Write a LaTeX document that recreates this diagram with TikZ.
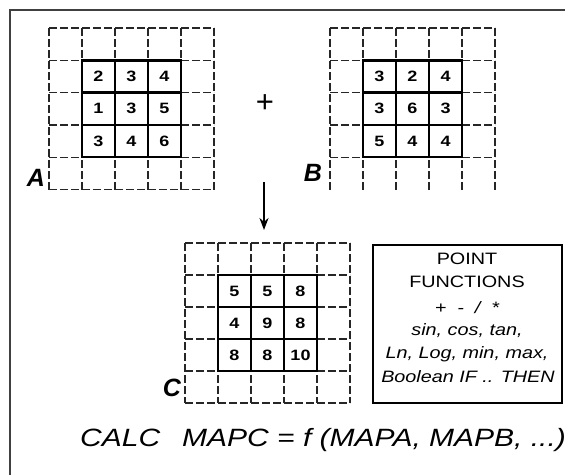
\documentclass[tikz,border=0pt]{standalone}
\usepackage{fontspec}
\setmainfont{Liberation Sans}
\newfontfamily\widesans[FakeStretch=1.2]{Liberation Sans}
\usetikzlibrary{arrows.meta}

\tikzset{
  frameline/.style={line width=2pt, draw=black!75},
  gridline/.style={line width=1.2pt, draw=black!85, dash pattern=on 8pt off 3pt},
  cellline/.style={line width=2.5pt, draw=black},
  cellnum/.style={font=\widesans\bfseries\fontsize{15}{15}\selectfont, inner sep=0pt},
  maplabel/.style={font=\bfseries\itshape\fontsize{25}{25}\selectfont, inner sep=0pt},
  flow/.style={line width=2.8pt, -{Stealth[length=12pt,width=9pt]}},
  fnbox/.style={draw, line width=2.6pt, inner sep=0pt, minimum width=189pt, minimum height=158pt},
  fnline/.style={font=\widesans\fontsize{16.5}{16.5}\selectfont, inner sep=0pt},
  fnitalic/.style={fnline, font=\widesans\itshape\fontsize{16.5}{16.5}\selectfont},
  formula/.style={font=\widesans\itshape\fontsize{25}{25}\selectfont, inner sep=0pt, anchor=base west}
}

% #1 name, #2 x0, #3 y0, #4 cell width, #5 cell height, #6 last dashed row line, #7 values
\newcommand{\drawmap}[7]{%
  \foreach \k in {0,...,5} {
    \draw[gridline] ({#2+\k*#4},#3) -- ({#2+\k*#4},{#3+5*#5});
  }
  \foreach \k in {0,...,#6} {
    \draw[gridline] (#2,{#3+\k*#5}) -- ({#2+5*#4},{#3+\k*#5});
  }
  \draw[cellline] ({#2+#4},{#3+#5}) rectangle ({#2+4*#4},{#3+4*#5});
  \foreach \k in {2,3} {
    \draw[cellline] ({#2+\k*#4},{#3+#5}) -- ({#2+\k*#4},{#3+4*#5});
    \draw[cellline] ({#2+#4},{#3+\k*#5}) -- ({#2+4*#4},{#3+\k*#5});
  }
  \foreach \v [count=\i from 0] in {#7} {
    \pgfmathtruncatemacro\rr{div(\i,3)}
    \pgfmathtruncatemacro\cc{mod(\i,3)}
    \node[cellnum] (#1-\rr-\cc) at ({#2+(\cc+1.5)*#4},{#3+(\rr+1.5)*#5}) {\v};
  }
}

\begin{document}
\begin{tikzpicture}[x=1pt,y=-1pt]
  \useasboundingbox (0,0) rectangle (565,475);

  % outer frame
  \draw[frameline] (10,475) -- (10,10) -- (565,10);

  % input maps
  \drawmap{A}{49}{28}{33}{32.3}{5}{2,3,4,1,3,5,3,4,6}
  \drawmap{B}{330}{28}{33}{32.3}{4}{3,2,4,3,6,3,5,4,4}
  \node[maplabel] (labA) at (36,178) {A};
  \node[maplabel] (labB) at (313,173) {B};

  \node[font=\fontsize{31}{31}\selectfont, inner sep=0pt] (plus) at (265,104) {+};

  % result map
  \drawmap{C}{185}{243}{33}{32}{5}{5,5,8,4,9,8,8,8,10}
  \node[maplabel] (labC) at (172,388) {C};

  \coordinate (arrtail) at (264,182);
  \coordinate (arrtip) at (264,230);
  \draw[flow] (arrtail) -- (arrtip);

  % function list
  \node[fnbox] (pf) at (467.5,324) {};
  \node[fnline] (pf1) at (467,259) {POINT};
  \node[fnline] (pf2) at (467,282) {FUNCTIONS};
  \node[fnitalic] (pf3) at (467,308) {+\ \ -\ \ /\ \ *};
  \node[fnitalic] (pf4) at (467,331) {sin, cos, tan,};
  \node[fnitalic] (pf5) at (467,354) {Ln, Log, min, max,};
  \node[fnitalic] (pf6) at (468,377) {Boolean IF .. THEN};

  % command line
  \node[formula] (calc) at (80,446) {CALC};
  \node[formula] (expr) at (182,446) {MAPC = \textit{f} (MAPA, MAPB, ...)};
\end{tikzpicture}
\end{document}
